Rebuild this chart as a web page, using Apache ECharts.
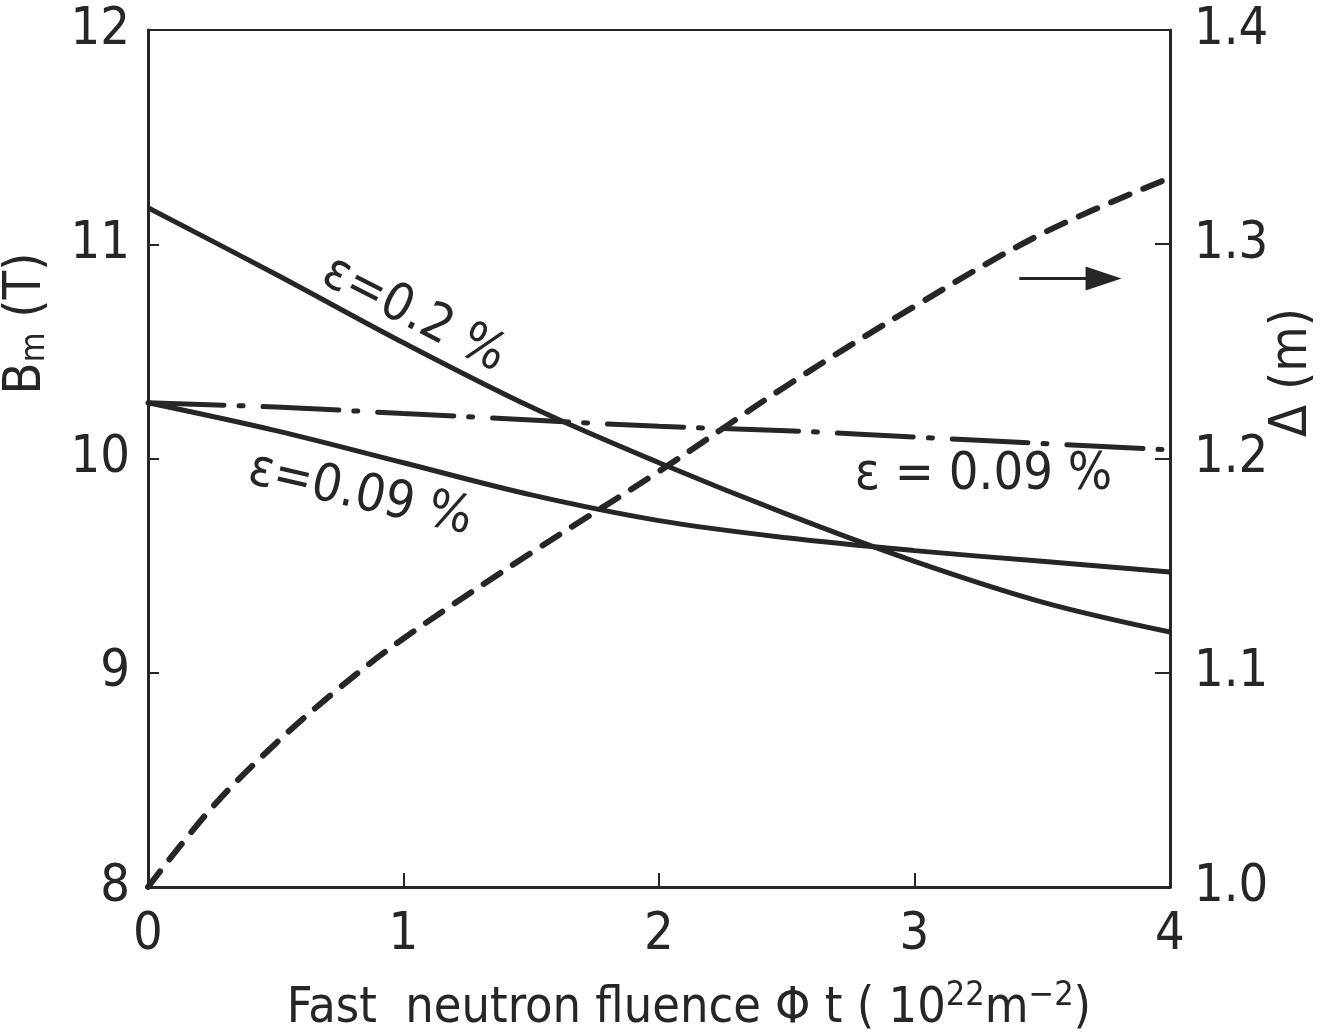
<!DOCTYPE html>
<html>
  <head>
    <meta charset="utf-8" />
    <script src="https://cdn.jsdelivr.net/npm/echarts@6/dist/echarts.min.js"></script>
    <title>Bm and Delta vs fluence</title>
    <style>
      html, body { margin: 0; padding: 0; background: #fff; }
      #main { width: 1328px; height: 1036px; }
    </style>
  </head>
  <body>
    <div id="main"></div>
    <script>
      // values
      const fluence = [0, 0.5, 1, 1.5, 2, 2.5, 3, 3.5, 4]
      const bmEps02 = [11.17, 10.86, 10.54, 10.24, 9.98, 9.74, 9.52, 9.33, 9.19]
      const bmEps009 = [10.26, 10.13, 9.98, 9.83, 9.71, 9.63, 9.57, 9.52, 9.47]
      const bmEps009b = [10.26, 10.24, 10.21, 10.18, 10.15, 10.13, 10.10, 10.07, 10.04]
      const fluenceDelta = [0, 0.25, 0.5, 0.75, 1, 1.5, 2, 2.5, 3, 3.5, 4]
      const delta = [1.0, 1.037, 1.067, 1.093, 1.116, 1.156, 1.194, 1.234, 1.271, 1.305, 1.331]

      const xTicks = [0, 1, 2, 3, 4]
      const leftTicks = [8, 9, 10, 11, 12]
      const rightTicks = [1.0, 1.1, 1.2, 1.3, 1.4]

      // curve labels: [x, Bm, text, angle in degrees]
      const curveLabels = [
        [1.04, 10.67, 'ε=0.2 %', -27],
        [0.83, 9.83, 'ε=0.09 %', -13],
        [3.27, 9.92, 'ε = 0.09 %', 0]
      ]
      const arrowFrom = [3.41, 10.84]
      const arrowTo = [3.74, 10.84]

      const ink = '#262626'
      const font = '"Liberation Sans Narrow", "DejaVu Sans Condensed", "Liberation Sans", sans-serif'

      function zip(xs, ys) {
        return xs.map(function (x, i) { return [x, ys[i]] })
      }

      var chart = echarts.init(document.getElementById('main'))
      var option = {
        backgroundColor: '#fff',
        animation: false,
        textStyle: { fontFamily: font, color: ink },
        grid: {
          left: 148,
          right: 158,
          top: 30,
          bottom: 149,
          outerBoundsMode: 'none',
          containLabel: false,
          show: true,
          borderColor: ink,
          borderWidth: 2
        },
        xAxis: {
          type: 'value',
          min: xTicks[0],
          max: xTicks[xTicks.length - 1],
          interval: 1,
          name: 'Fast  neutron fluence Φ t ( 10{sup|22}m{sup|−2})',
          nameLocation: 'middle',
          nameGap: 92,
          nameTextStyle: {
            fontSize: 50,
            fontFamily: font,
            color: ink,
            padding: [0, 0, 0, 60],
            rich: {
              sup: { fontSize: 34, fontFamily: font, color: ink, verticalAlign: 'top', padding: [0, 0, 26, 0] }
            }
          },
          axisLine: { lineStyle: { color: ink, width: 3 } },
          axisTick: { inside: true, length: 14, lineStyle: { color: ink, width: 2 } },
          axisLabel: { fontSize: 52, color: ink, margin: 22, fontFamily: font },
          splitLine: { show: false }
        },
        yAxis: [
          {
            type: 'value',
            min: leftTicks[0],
            max: leftTicks[leftTicks.length - 1],
            interval: 1,
            name: 'B{sub|m} (T)',
            nameLocation: 'middle',
            nameRotate: 90,
            nameGap: 96,
            nameTextStyle: {
              fontSize: 52,
              fontFamily: font,
              color: ink,
              padding: [0, 0, 0, 270],
              rich: {
                sub: { fontSize: 34, fontFamily: font, color: ink, verticalAlign: 'bottom', padding: [14, 0, 0, 0] }
              }
            },
            axisLine: { show: true, lineStyle: { color: ink, width: 3 } },
            axisTick: { show: true, inside: true, length: 11, lineStyle: { color: ink, width: 2 } },
            axisLabel: { fontSize: 52, color: ink, margin: 18, fontFamily: font },
            splitLine: { show: false }
          },
          {
            type: 'value',
            position: 'right',
            min: rightTicks[0],
            max: rightTicks[rightTicks.length - 1],
            interval: 0.1,
            name: 'Δ (m)',
            nameLocation: 'middle',
            nameRotate: 90,
            nameGap: 96,
            nameMoveOverlap: false,
            nameTextStyle: {
              fontSize: 52,
              fontFamily: font,
              color: ink,
              padding: [0, 0, 0, 172]
            },
            axisLine: { show: true, lineStyle: { color: ink, width: 3 } },
            axisTick: { show: true, inside: true, length: 15, lineStyle: { color: ink, width: 2 } },
            axisLabel: {
              fontSize: 52,
              color: ink,
              margin: 24,
              fontFamily: font,
              formatter: function (v) { return v.toFixed(1) }
            },
            splitLine: { show: false }
          }
        ],
        series: [
          {
            name: 'eps 0.2',
            type: 'line',
            data: zip(fluence, bmEps02),
            smooth: 0.35,
            showSymbol: false,
            lineStyle: { color: ink, width: 5 },
            markLine: {
              silent: true,
              symbol: ['none', 'triangle'],
              symbolSize: [24, 36],
              label: { show: false },
              lineStyle: { color: ink, width: 3, type: 'solid' },
              data: [[{ coord: arrowFrom }, { coord: arrowTo }]]
            }
          },
          {
            name: 'eps 0.09',
            type: 'line',
            data: zip(fluence, bmEps009),
            smooth: 0.35,
            showSymbol: false,
            lineStyle: { color: ink, width: 5 }
          },
          {
            name: 'eps 0.09 dash-dot',
            type: 'line',
            data: zip(fluence, bmEps009b),
            smooth: 0.35,
            showSymbol: false,
            lineStyle: { color: ink, width: 5, type: [76, 15, 4, 20], cap: 'round' }
          },
          {
            name: 'delta',
            type: 'line',
            yAxisIndex: 1,
            data: zip(fluenceDelta, delta),
            smooth: 0.35,
            showSymbol: false,
            lineStyle: { color: ink, width: 6, type: [20, 15], cap: 'round' }
          }
        ]
      }
      chart.setOption(option)

      // put curve labels at data positions
      var texts = curveLabels.map(function (l) {
        var p = chart.convertToPixel({ xAxisIndex: 0, yAxisIndex: 0 }, [l[0], l[1]])
        return {
          type: 'text',
          x: p[0],
          y: p[1],
          rotation: (l[3] * Math.PI) / 180,
          style: {
            text: l[2],
            fontSize: 52,
            fontFamily: font,
            fill: ink,
            align: 'center',
            verticalAlign: 'middle'
          }
        }
      })
      chart.setOption({ graphic: texts })
    </script>
  </body>
</html>
